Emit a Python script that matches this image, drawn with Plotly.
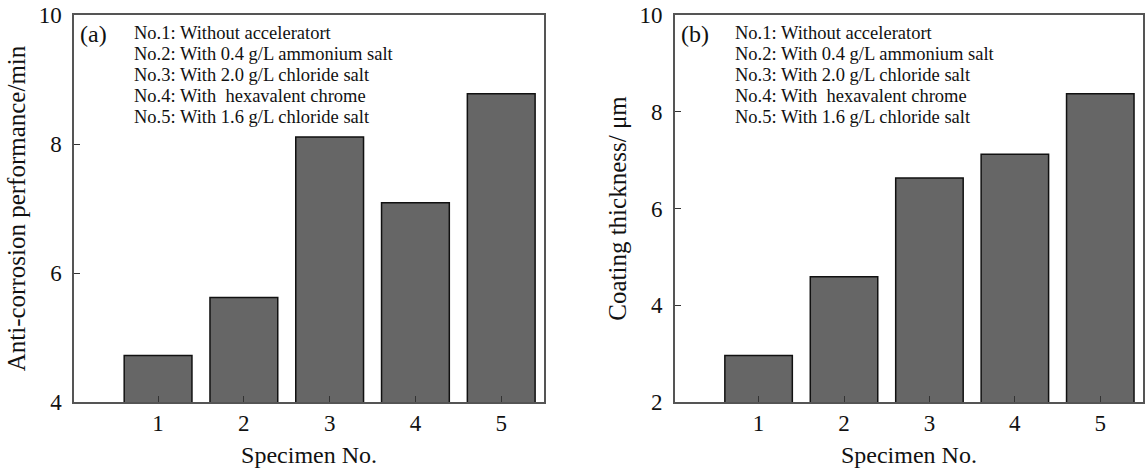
import plotly.graph_objects as go
from plotly.subplots import make_subplots

specimens = [1, 2, 3, 4, 5]
anti_corrosion = [4.72, 5.62, 8.11, 7.09, 8.78]
coating_thickness = [2.96, 4.59, 6.63, 7.12, 8.37]
legend_lines = [
    "No.1: Without acceleratort",
    "No.2: With 0.4 g/L ammonium salt",
    "No.3: With 2.0 g/L chloride salt",
    "No.4: With  hexavalent chrome",
    "No.5: With 1.6 g/L chloride salt",
]
panel_labels = ["(a)", "(b)"]
left_ticks = [4, 6, 8, 10]
right_ticks = [2, 4, 6, 8, 10]

FONT = "Liberation Serif"
W, H = 1145, 468
ML, MR, MT, MB = 74, 0, 15, 66

fig = make_subplots(rows=1, cols=2, horizontal_spacing=0.12)

bar_style = dict(marker=dict(color="#666666", line=dict(color="#111111", width=1.5)),
                 width=0.79, showlegend=False)
fig.add_trace(go.Bar(x=specimens, y=anti_corrosion, **bar_style), row=1, col=1)
fig.add_trace(go.Bar(x=specimens, y=coating_thickness, **bar_style), row=1, col=2)

plot_w = W - ML - MR
d1 = [0, (545 - ML) / plot_w]
d2 = [(676 - ML) / plot_w, 1]

axis_common = dict(showline=True, linecolor="#555555", linewidth=1.5, mirror=True,
                   ticks="inside", ticklen=6, tickcolor="#333333", tickwidth=1,
                   showgrid=False, zeroline=False,
                   tickfont=dict(family=FONT, size=23, color="#111111"))

fig.update_xaxes(**axis_common, range=[0.02, 5.5], tickvals=specimens,
                 title=dict(text="Specimen No.", font=dict(family=FONT, size=24, color="#111111"),
                            standoff=12))
fig.update_xaxes(domain=d1, row=1, col=1)
fig.update_xaxes(domain=d2, row=1, col=2)

fig.update_yaxes(**axis_common, ticklabelstandoff=6)
fig.update_yaxes(range=[4, 10], tickvals=left_ticks, row=1, col=1,
                 title=dict(text="Anti-corrosion performance/min",
                            font=dict(family=FONT, size=25, color="#111111"), standoff=6))
fig.update_yaxes(range=[2, 10], tickvals=right_ticks, row=1, col=2,
                 title=dict(text="Coating thickness/ μm",
                            font=dict(family=FONT, size=25, color="#111111"), standoff=6))

annotations = []
for i, (xr, yr) in enumerate([("x domain", "y domain"), ("x2 domain", "y2 domain")]):
    annotations.append(dict(text=panel_labels[i], xref=xr, yref=yr, x=0.008, y=0.951,
                            xanchor="left", yanchor="middle", showarrow=False,
                            font=dict(family=FONT, size=24, color="#111111")))
    for j, line in enumerate(legend_lines):
        annotations.append(dict(text=line, xref=xr, yref=yr, x=0.124, y=0.953 - j * 0.0543,
                                xanchor="left", yanchor="middle", showarrow=False,
                                font=dict(family=FONT, size=18.5, color="#111111")))

fig.update_layout(width=W, height=H, margin=dict(l=ML, r=MR, t=MT, b=MB),
                  paper_bgcolor="white", plot_bgcolor="white",
                  annotations=annotations, bargap=0.21)

fig.write_html("out.html", config={"displayModeBar": False},
               post_script="document.body.style.margin='0';")
